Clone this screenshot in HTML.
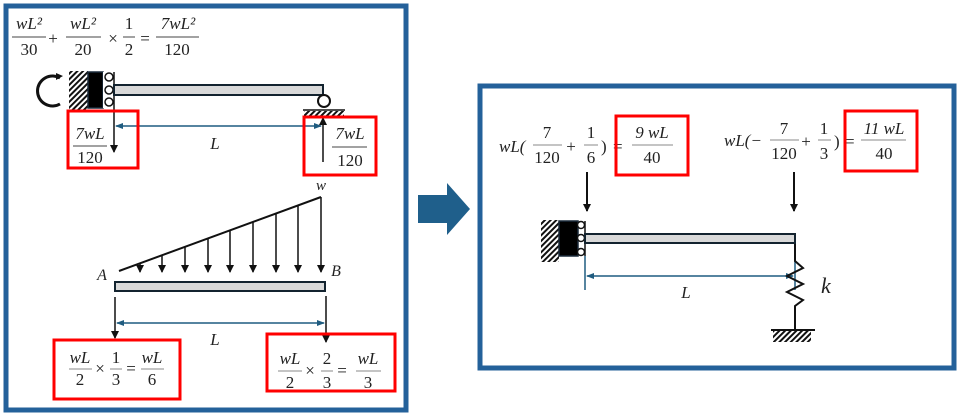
<!DOCTYPE html>
<html><head><meta charset="utf-8"><style>
html,body{margin:0;padding:0;background:#fff;}
svg{display:block;}
text{font-family:"Liberation Serif",serif;fill:#222;}
.i{font-style:italic;}
</style></head><body>
<svg width="965" height="416" viewBox="0 0 965 416" xmlns="http://www.w3.org/2000/svg">
<defs>
<pattern id="h" width="4" height="4" patternUnits="userSpaceOnUse" patternTransform="rotate(45)">
<rect width="4" height="4" fill="#fff"/><rect width="2" height="4" fill="#111"/></pattern>
<marker id="a" markerWidth="8" markerHeight="8" refX="7" refY="4" orient="auto" markerUnits="userSpaceOnUse"><path d="M0,0 L8,4 L0,8 Z" fill="#111"/></marker>
<marker id="b" markerWidth="8" markerHeight="8" refX="7" refY="4" orient="auto" markerUnits="userSpaceOnUse"><path d="M0,1 L8,4 L0,7 Z" fill="#1f5c80"/></marker>
<marker id="bs" markerWidth="8" markerHeight="8" refX="1" refY="4" orient="auto" markerUnits="userSpaceOnUse"><path d="M8,1 L0,4 L8,7 Z" fill="#1f5c80"/></marker>
</defs>

<rect x="6" y="6" width="400" height="404" fill="none" stroke="#24619a" stroke-width="5"/>
<rect x="480" y="86" width="474" height="282" fill="none" stroke="#24619a" stroke-width="5"/>
<polygon points="418,195 447,195 447,183 470,209 447,235 447,223 418,223" fill="#1f5f8b"/>

<g font-size="17">
<text x="29" y="29" text-anchor="middle" class="i">wL²</text><line x1="12" y1="37" x2="46" y2="37" stroke="#444"/><text x="29" y="55" text-anchor="middle">30</text>
<text x="53" y="44" text-anchor="middle">+</text>
<text x="83" y="29" text-anchor="middle" class="i">wL²</text><line x1="66" y1="37" x2="101" y2="37" stroke="#444"/><text x="83" y="55" text-anchor="middle">20</text>
<text x="113" y="44" text-anchor="middle">×</text>
<text x="129" y="29" text-anchor="middle">1</text><line x1="123" y1="37" x2="135" y2="37" stroke="#444"/><text x="129" y="55" text-anchor="middle">2</text>
<text x="145" y="44" text-anchor="middle">=</text>
<text x="178" y="29" text-anchor="middle" class="i">7wL²</text><line x1="156" y1="37" x2="199" y2="37" stroke="#444"/><text x="177" y="55" text-anchor="middle">120</text>
</g>

<path d="M60,78 A15,15 0 1 0 60,104" fill="none" stroke="#111" stroke-width="3"/>
<path d="M56,73 L63,76 L56,80 Z" fill="#111"/>
<rect x="69" y="71" width="19" height="40" fill="url(#h)"/>
<rect x="88" y="72" width="15" height="36" fill="#000" stroke="#1a2a3a" stroke-width="1.5"/>
<rect x="103" y="72" width="11" height="36" fill="#fff"/>
<circle cx="109" cy="77" r="4" fill="#fff" stroke="#111" stroke-width="1.5"/>
<circle cx="109" cy="90" r="4" fill="#fff" stroke="#111" stroke-width="1.5"/>
<circle cx="109" cy="102" r="4" fill="#fff" stroke="#111" stroke-width="1.5"/>
<line x1="114" y1="72" x2="114" y2="108" stroke="#111" stroke-width="1.5"/>
<rect x="114" y="85" width="209" height="10" fill="#d9d9d9" stroke="#13232f" stroke-width="2"/>
<circle cx="324" cy="101" r="6" fill="#fff" stroke="#111" stroke-width="2"/>
<line x1="303" y1="110" x2="345" y2="110" stroke="#111" stroke-width="1.5"/>
<rect x="304" y="111" width="40" height="6" fill="url(#h)"/>
<line x1="114" y1="108" x2="114" y2="152" stroke="#111" stroke-width="1.5" marker-end="url(#a)"/>
<line x1="323" y1="162" x2="323" y2="118" stroke="#111" stroke-width="1.5" marker-end="url(#a)"/>
<line x1="116" y1="126" x2="321" y2="126" stroke="#1f5c80" stroke-width="1.5" marker-end="url(#b)" marker-start="url(#bs)"/>
<text x="215" y="149" font-size="17" class="i" text-anchor="middle">L</text>
<rect x="68" y="111" width="70" height="57" fill="none" stroke="#f00" stroke-width="3"/>
<rect x="304" y="117" width="72" height="58" fill="none" stroke="#f00" stroke-width="3"/>
<g font-size="17">
<text x="90" y="139" text-anchor="middle" class="i">7wL</text><line x1="73" y1="146" x2="107" y2="146" stroke="#444"/><text x="90" y="163" text-anchor="middle">120</text>
<text x="350" y="139" text-anchor="middle" class="i">7wL</text><line x1="332" y1="147" x2="367" y2="147" stroke="#444"/><text x="350" y="166" text-anchor="middle">120</text>
</g>

<text x="321" y="190" font-size="15" class="i" text-anchor="middle">w</text>
<line x1="119" y1="271" x2="321" y2="197" stroke="#111" stroke-width="2"/>
<g stroke="#111" stroke-width="1.5" marker-end="url(#a)">
<line x1="140" y1="263" x2="140" y2="272"/>
<line x1="162" y1="256" x2="162" y2="272"/>
<line x1="185" y1="247" x2="185" y2="272"/>
<line x1="208" y1="239" x2="208" y2="272"/>
<line x1="230" y1="231" x2="230" y2="272"/>
<line x1="253" y1="222" x2="253" y2="272"/>
<line x1="276" y1="214" x2="276" y2="272"/>
<line x1="298" y1="206" x2="298" y2="272"/>
<line x1="321" y1="197" x2="321" y2="272"/>
</g>
<text x="102" y="280" font-size="16" class="i" text-anchor="middle">A</text>
<text x="336" y="276" font-size="16" class="i" text-anchor="middle">B</text>
<rect x="115" y="282" width="210" height="9" fill="#d9d9d9" stroke="#13232f" stroke-width="2"/>
<line x1="115" y1="297" x2="115" y2="338" stroke="#111" stroke-width="1.5" marker-end="url(#a)"/>
<line x1="326" y1="296" x2="326" y2="342" stroke="#111" stroke-width="1.5" marker-end="url(#a)"/>
<line x1="117" y1="323" x2="324" y2="323" stroke="#1f5c80" stroke-width="1.5" marker-end="url(#b)" marker-start="url(#bs)"/>
<text x="215" y="345" font-size="17" class="i" text-anchor="middle">L</text>
<rect x="54" y="340" width="126" height="59" fill="none" stroke="#f00" stroke-width="3"/>
<rect x="267" y="334" width="128" height="57" fill="none" stroke="#f00" stroke-width="3"/>
<g font-size="17">
<text x="80" y="363" text-anchor="middle" class="i">wL</text><line x1="69" y1="369" x2="92" y2="369" stroke="#888"/><text x="80" y="385" text-anchor="middle">2</text>
<text x="100" y="374" text-anchor="middle">×</text>
<text x="116" y="363" text-anchor="middle">1</text><line x1="110" y1="369" x2="122" y2="369" stroke="#888"/><text x="116" y="385" text-anchor="middle">3</text>
<text x="131" y="374" text-anchor="middle">=</text>
<text x="152" y="363" text-anchor="middle" class="i">wL</text><line x1="141" y1="369" x2="164" y2="369" stroke="#888"/><text x="152" y="385" text-anchor="middle">6</text>
<text x="290" y="364" text-anchor="middle" class="i">wL</text><line x1="278" y1="371" x2="302" y2="371" stroke="#888"/><text x="290" y="388" text-anchor="middle">2</text>
<text x="310" y="376" text-anchor="middle">×</text>
<text x="327" y="364" text-anchor="middle">2</text><line x1="321" y1="371" x2="333" y2="371" stroke="#888"/><text x="327" y="388" text-anchor="middle">3</text>
<text x="342" y="376" text-anchor="middle">=</text>
<text x="368" y="364" text-anchor="middle" class="i">wL</text><line x1="356" y1="371" x2="381" y2="371" stroke="#888"/><text x="368" y="388" text-anchor="middle">3</text>
</g>

<g font-size="17">
<text x="499" y="152" class="i">wL(</text>
<text x="547" y="138" text-anchor="middle">7</text><line x1="533" y1="145" x2="562" y2="145" stroke="#888"/><text x="547" y="163" text-anchor="middle">120</text>
<text x="571" y="152" text-anchor="middle">+</text>
<text x="591" y="138" text-anchor="middle">1</text><line x1="584" y1="145" x2="598" y2="145" stroke="#888"/><text x="591" y="163" text-anchor="middle">6</text>
<text x="601" y="152">)</text>
<text x="613" y="152">=</text>
<text x="652" y="138" text-anchor="middle" class="i">9 wL</text><line x1="632" y1="145" x2="673" y2="145" stroke="#888"/><text x="652" y="163" text-anchor="middle">40</text>
<text x="724" y="146" class="i">wL(−</text>
<text x="784" y="134" text-anchor="middle">7</text><line x1="770" y1="140" x2="799" y2="140" stroke="#888"/><text x="784" y="159" text-anchor="middle">120</text>
<text x="806" y="147" text-anchor="middle">+</text>
<text x="824" y="134" text-anchor="middle">1</text><line x1="818" y1="140" x2="831" y2="140" stroke="#888"/><text x="824" y="159" text-anchor="middle">3</text>
<text x="834" y="147">)</text>
<text x="845" y="147">=</text>
<text x="884" y="134" text-anchor="middle" class="i">11 wL</text><line x1="861" y1="140" x2="906" y2="140" stroke="#888"/><text x="884" y="159" text-anchor="middle">40</text>
</g>
<rect x="616" y="116" width="72" height="59" fill="none" stroke="#f00" stroke-width="3"/>
<rect x="845" y="111" width="72" height="60" fill="none" stroke="#f00" stroke-width="3"/>
<line x1="587" y1="172" x2="587" y2="211" stroke="#111" stroke-width="2" marker-end="url(#a)"/>
<line x1="794" y1="172" x2="794" y2="211" stroke="#111" stroke-width="2" marker-end="url(#a)"/>

<rect x="541" y="220" width="18" height="42" fill="url(#h)"/>
<rect x="559" y="221" width="19" height="35" fill="#000" stroke="#1a2a3a" stroke-width="1.5"/>
<circle cx="581" cy="225" r="3.5" fill="#fff" stroke="#111" stroke-width="1.5"/>
<circle cx="581" cy="238" r="3.5" fill="#fff" stroke="#111" stroke-width="1.5"/>
<circle cx="581" cy="252" r="3.5" fill="#fff" stroke="#111" stroke-width="1.5"/>
<line x1="585" y1="221" x2="585" y2="256" stroke="#111" stroke-width="1.5"/>
<rect x="585" y="234" width="210" height="9" fill="#d9d9d9" stroke="#13232f" stroke-width="2"/>
<line x1="585" y1="256" x2="585" y2="290" stroke="#1f5c80" stroke-width="1.5"/>
<line x1="795" y1="250" x2="795" y2="290" stroke="#1f5c80" stroke-width="1.5"/>
<line x1="587" y1="276" x2="793" y2="276" stroke="#1f5c80" stroke-width="1.5" marker-end="url(#b)" marker-start="url(#bs)"/>
<text x="686" y="298" font-size="17" class="i" text-anchor="middle">L</text>
<polyline points="795,244 795,261 803,268 787,276 803,284 787,292 803,300 795,306 795,330" fill="none" stroke="#111" stroke-width="2"/>
<line x1="771" y1="330" x2="815" y2="330" stroke="#111" stroke-width="2"/>
<rect x="773" y="331" width="38" height="11" fill="url(#h)"/>
<text x="821" y="293" font-size="22" class="i">k</text>
</svg>
</body></html>
